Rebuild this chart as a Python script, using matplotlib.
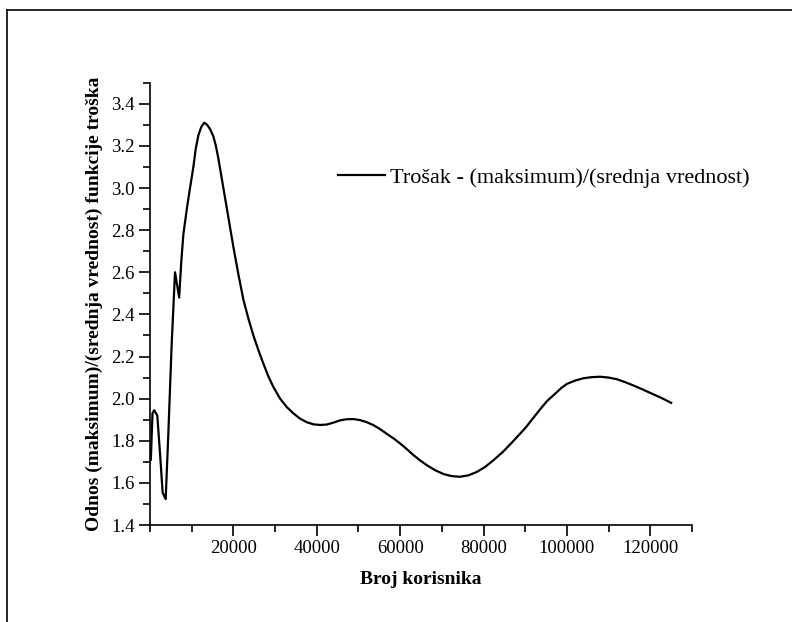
import matplotlib
matplotlib.use("Agg")
import matplotlib.pyplot as plt
from matplotlib.lines import Line2D
from matplotlib.ticker import MultipleLocator, FixedLocator

plt.rcParams['font.family'] = ['Liberation Serif', 'DejaVu Serif']

# Broj korisnika vs. odnos (maksimum)/(srednja vrednost)
korisnici = [200, 600, 1000, 1750, 2400, 3040, 3760, 4400, 5200, 6000,
             7000, 7500, 8000, 8900, 9600, 10400, 11000, 11600, 12300,
             13000, 13700, 14400, 15200, 15800, 16400, 17000, 17600,
             18800, 20000, 21200, 22400, 23600, 24800, 26000, 27200,
             28400, 29600, 31200, 32800, 34400, 36000, 37600, 39200,
             40800, 42400, 44000, 45600, 47200, 48800, 50400, 52000,
             53600, 55200, 57000, 58500, 60000, 61500, 63000, 64700,
             66400, 68400, 70400, 72400, 74400, 76400, 78400, 80400,
             82400, 84800, 87200, 90000, 92000, 93600, 95300, 97000,
             98500, 100000, 102000, 104000, 106000, 108000, 110000,
             112000, 114000, 116000, 118000, 120000, 122500, 125000]
odnos = [1.71, 1.93, 1.945, 1.92, 1.74, 1.553, 1.523, 1.835, 2.26, 2.60,
         2.48, 2.65, 2.78, 2.91, 3.00, 3.10, 3.19, 3.25, 3.29,
         3.31, 3.30, 3.28, 3.245, 3.20, 3.14, 3.07, 3.00,
         2.86, 2.72, 2.59, 2.47, 2.38, 2.30, 2.23, 2.166,
         2.105, 2.055, 2.00, 1.96, 1.93, 1.905, 1.888, 1.878,
         1.875, 1.877, 1.886, 1.897, 1.902, 1.903, 1.898, 1.888,
         1.874, 1.855, 1.83, 1.81, 1.787, 1.762, 1.735, 1.708,
         1.684, 1.66, 1.642, 1.632, 1.629, 1.636, 1.652, 1.676,
         1.708, 1.75, 1.80, 1.86, 1.91, 1.95, 1.99, 2.02,
         2.048, 2.07, 2.086, 2.097, 2.102, 2.104, 2.10,
         2.092, 2.078, 2.062, 2.045, 2.027, 2.005, 1.98]

x_ticks = [20000, 40000, 60000, 80000, 100000, 120000]
y_ticks = [1.4, 1.6, 1.8, 2.0, 2.2, 2.4, 2.6, 2.8, 3.0, 3.2, 3.4]

fig = plt.figure(figsize=(7.92, 6.22), dpi=100)
ax = fig.add_axes([150 / 792, 1 - 525 / 622, 542 / 792, (525 - 82.7) / 622])

ax.plot(korisnici, odnos, color='black', lw=1.6,
        label='Trošak - (maksimum)/(srednja vrednost)')

ax.set_xlim(0, 130000)
ax.set_ylim(1.4, 3.5)
ax.xaxis.set_major_locator(FixedLocator(x_ticks))
ax.xaxis.set_minor_locator(MultipleLocator(10000))
ax.yaxis.set_major_locator(FixedLocator(y_ticks))
ax.yaxis.set_minor_locator(MultipleLocator(0.1))
ax.set_yticklabels([f'{v:.1f}' for v in y_ticks])
ax.set_xticklabels([str(v) for v in x_ticks])

for s in ['top', 'right']:
    ax.spines[s].set_visible(False)
for s in ['left', 'bottom']:
    ax.spines[s].set_linewidth(1.2)
ax.tick_params(which='major', direction='out', length=8, width=1.2,
               labelsize=13.5, pad=3)
ax.tick_params(which='minor', direction='out', length=5, width=1.2)

ax.set_xlabel('Broj korisnika', fontsize=14, fontweight='bold', labelpad=10)
ax.set_ylabel('Odnos (maksimum)/(srednja vrednost) funkcije troška',
              fontsize=14, fontweight='bold', labelpad=6)

ax.legend(loc='center left', bbox_to_anchor=(0.31, 0.785), frameon=False,
          fontsize=16, handlelength=2.1, handletextpad=0.25)

# okvir slike (gore i levo)
fig.add_artist(Line2D([7 / 792, 1], [1 - 10 / 622, 1 - 10 / 622],
                      color='black', lw=1.2))
fig.add_artist(Line2D([7 / 792, 7 / 792], [0, 1 - 10 / 622],
                      color='black', lw=1.2))

fig.savefig('out.png', dpi=100)
